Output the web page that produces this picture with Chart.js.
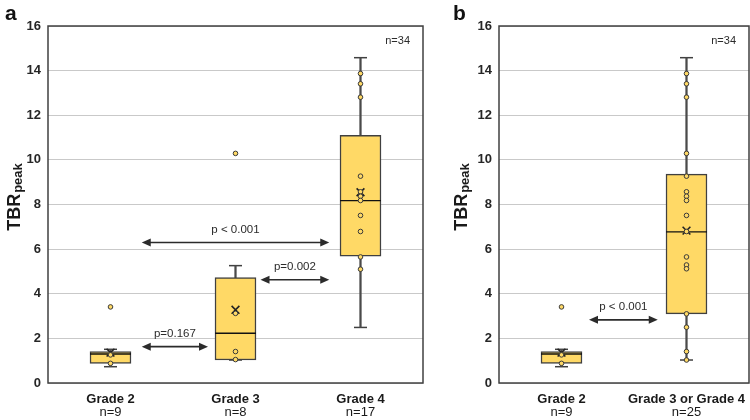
<!DOCTYPE html>
<html>
<head>
<meta charset="utf-8">
<script src="https://cdn.jsdelivr.net/npm/chart.js@4.4.1/dist/chart.umd.min.js"></script>
<style>
  html, body { margin: 0; padding: 0; background: #fff; }
  #wrap { position: relative; width: 750px; height: 420px; }
  #chartA { position: absolute; left: 0; top: 0; }
  #chartB { position: absolute; left: 430px; top: 0; }
</style>
</head>
<body>
<div id="wrap">
  <canvas id="chartA" width="430" height="420"></canvas>
  <canvas id="chartB" width="320" height="420"></canvas>
</div>
<script>
// panel a
const catsA = ['Grade 2', 'Grade 3', 'Grade 4'];
const countsA = ['n=9', 'n=8', 'n=17'];
const minA = [0.73, 1.03, 2.49];
const q1A = [0.88, 1.03, 5.68];
const medianA = [1.30, 2.23, 8.17];
const q3A = [1.41, 4.73, 11.10];
const maxA = [1.51, 5.26, 14.58];
const meanA = [1.36, 3.28, 8.55];
const pointsA = [
  [3.41, 1.26, 0.88],
  [10.29, 3.12, 1.41, 1.05],
  [13.87, 13.41, 12.81, 9.27, 8.57, 8.37, 8.18, 7.51, 6.79, 5.65, 5.10]
];
const pTextA = ['p=0.167', 'p=0.002', 'p < 0.001'];
const pFromA = [0.25, 1.2, 0.25];
const pToA = [0.78, 1.75, 1.75];
const pAtA = [1.63, 4.63, 6.3];

// panel b
const catsB = ['Grade 2', 'Grade 3 or Grade 4'];
const countsB = ['n=9', 'n=25'];
const minB = [0.73, 1.03];
const q1B = [0.88, 3.10];
const medianB = [1.30, 6.77];
const q3B = [1.41, 9.36];
const maxB = [1.51, 14.58];
const meanB = [1.36, 6.83];
const pointsB = [
  [3.41, 1.26, 0.88],
  [13.87, 13.41, 12.81, 10.29, 9.27, 8.57, 8.37, 8.18, 7.51, 6.79, 5.65, 5.29, 5.12, 3.10, 2.50, 1.41, 1.03]
];
const pTextB = ['p < 0.001'];
const pFromB = [0.22];
const pToB = [0.77];
const pAtB = [2.83];

const totalN = 'n=34';
const yTicks = { min: 0, max: 16, step: 2 };

const FONT = '"Liberation Sans", Arial, sans-serif';
Chart.defaults.font.family = FONT;
Chart.defaults.color = '#1f1f1f';

function noPad(s, h) {
  s.height = h;
  s.paddingLeft = 0;
  s.paddingRight = 0;
}

function build(id, cats, counts, mins, q1s, meds, q3s, maxs, means, pts, pText, pFrom, pTo, pAt, look) {
  const at = arr => arr.map((v, i) => ({ x: cats[i], y: v }));
  const dots = pts.flatMap((arr, i) => arr.map(v => ({ x: cats[i], y: v })));

  const extras = {
    id: 'extras',
    afterDatasetsDraw(chart) {
      const ctx = chart.ctx, a = chart.chartArea, xs = chart.scales.x, ys = chart.scales.y;
      ctx.save();
      // plot frame
      ctx.strokeStyle = '#404040';
      ctx.lineWidth = 1.5;
      ctx.strokeRect(a.left, a.top, a.right - a.left, a.bottom - a.top);

      // comparison arrows
      ctx.fillStyle = '#2b2b2b';
      ctx.strokeStyle = '#2b2b2b';
      ctx.lineWidth = 1.6;
      ctx.font = '11.5px ' + FONT;
      ctx.textAlign = 'center';
      ctx.textBaseline = 'middle';
      pText.forEach((t, i) => {
        const x1 = xs.getPixelForValue(pFrom[i]);
        const x2 = xs.getPixelForValue(pTo[i]);
        const y = ys.getPixelForValue(pAt[i]);
        const h = 9, w = 4;
        ctx.beginPath();
        ctx.moveTo(x1 + h - 1, y);
        ctx.lineTo(x2 - h + 1, y);
        ctx.stroke();
        ctx.beginPath();
        ctx.moveTo(x1, y); ctx.lineTo(x1 + h, y - w); ctx.lineTo(x1 + h, y + w);
        ctx.closePath(); ctx.fill();
        ctx.beginPath();
        ctx.moveTo(x2, y); ctx.lineTo(x2 - h, y - w); ctx.lineTo(x2 - h, y + w);
        ctx.closePath(); ctx.fill();
        ctx.fillText(t, (x1 + x2) / 2, y - 13);
      });

      // total count
      ctx.textAlign = 'right';
      ctx.font = '11px ' + FONT;
      ctx.fillText(totalN, a.right - 13, a.top + 15);

      // y axis title with subscript
      ctx.save();
      ctx.translate(look.titleX, (a.top + a.bottom) / 2 - 7);
      ctx.rotate(-Math.PI / 2);
      ctx.textAlign = 'left';
      ctx.textBaseline = 'alphabetic';
      ctx.fillStyle = '#1a1a1a';
      const big = 'bold 18px ' + FONT, small = 'bold 13px ' + FONT;
      ctx.font = big;
      const w1 = ctx.measureText('TBR').width;
      ctx.font = small;
      const w2 = ctx.measureText('peak').width;
      const sx = -(w1 + w2) / 2;
      ctx.font = big;
      ctx.fillText('TBR', sx, 0);
      ctx.font = small;
      ctx.fillText('peak', sx + w1 + 1, 2);
      ctx.restore();

      // panel letter
      ctx.font = 'bold 21px ' + FONT;
      ctx.textAlign = 'left';
      ctx.textBaseline = 'alphabetic';
      ctx.fillStyle = '#111';
      ctx.fillText(look.panel, look.panelX, 20);
      ctx.restore();
    }
  };

  return new Chart(document.getElementById(id), {
    type: 'bar',
    data: {
      labels: cats,
      datasets: [
        { type: 'line', data: dots, showLine: false, pointRadius: 2.3,
          pointBackgroundColor: '#FFD966', pointBorderColor: '#3a3a3a', pointBorderWidth: 1, order: 0 },
        { type: 'line', data: at(means), showLine: false, pointStyle: 'crossRot', pointRadius: 5.5,
          pointBorderColor: '#222', pointBorderWidth: 1.6, order: 1 },
        { type: 'line', data: at(meds), showLine: false, pointStyle: 'line', pointRadius: 20.5,
          pointBorderColor: '#111', pointBorderWidth: 1.3, order: 2 },
        { data: cats.map((c, i) => [q1s[i], q3s[i]]), backgroundColor: '#FFD966', borderColor: '#404040',
          borderWidth: 1.5, borderSkipped: false, barThickness: 41, grouped: false, order: 3 },
        { data: cats.map((c, i) => [mins[i], maxs[i]]), backgroundColor: '#4a4a4a',
          barThickness: 1.6, grouped: false, order: 4 },
        { type: 'line', data: at(maxs).concat(at(mins)), showLine: false, pointStyle: 'line', pointRadius: 6.5,
          pointBorderColor: '#404040', pointBorderWidth: 1.5, order: 4 }
      ]
    },
    options: {
      responsive: false,
      animation: false,
      layout: { autoPadding: false, padding: { top: 26, right: look.padR, left: 0, bottom: 0 } },
      plugins: { legend: { display: false }, tooltip: { enabled: false } },
      scales: {
        x: {
          grid: { display: false, drawTicks: false }, border: { display: false },
          ticks: { font: { weight: 'bold', size: 13 }, color: '#1a1a1a', padding: 9, maxRotation: 0, autoSkip: false },
          afterFit: s => noPad(s, 20)
        },
        x2: {
          type: 'category', labels: counts, position: 'bottom', offset: true, weight: 1,
          grid: { display: false, drawTicks: false }, border: { display: false },
          ticks: { font: { size: 13 }, color: '#1a1a1a', padding: 2, maxRotation: 0, autoSkip: false },
          afterFit: s => noPad(s, 17)
        },
        y: {
          min: yTicks.min, max: yTicks.max,
          ticks: { stepSize: yTicks.step, font: { weight: 'bold', size: 13 }, color: '#262626', padding: 7 },
          grid: { color: '#c9c9c9', lineWidth: 1, drawTicks: false },
          border: { display: false },
          afterFit: s => { s.width = look.axisW; }
        }
      }
    },
    plugins: [extras]
  });
}

build('chartA', catsA, countsA, minA, q1A, medianA, q3A, maxA, meanA, pointsA, pTextA, pFromA, pToA, pAtA,
  { axisW: 48, padR: 7, titleX: 20, panel: 'a', panelX: 5 });
build('chartB', catsB, countsB, minB, q1B, medianB, q3B, maxB, meanB, pointsB, pTextB, pFromB, pToB, pAtB,
  { axisW: 69, padR: 1, titleX: 37, panel: 'b', panelX: 23 });
</script>
</body>
</html>
